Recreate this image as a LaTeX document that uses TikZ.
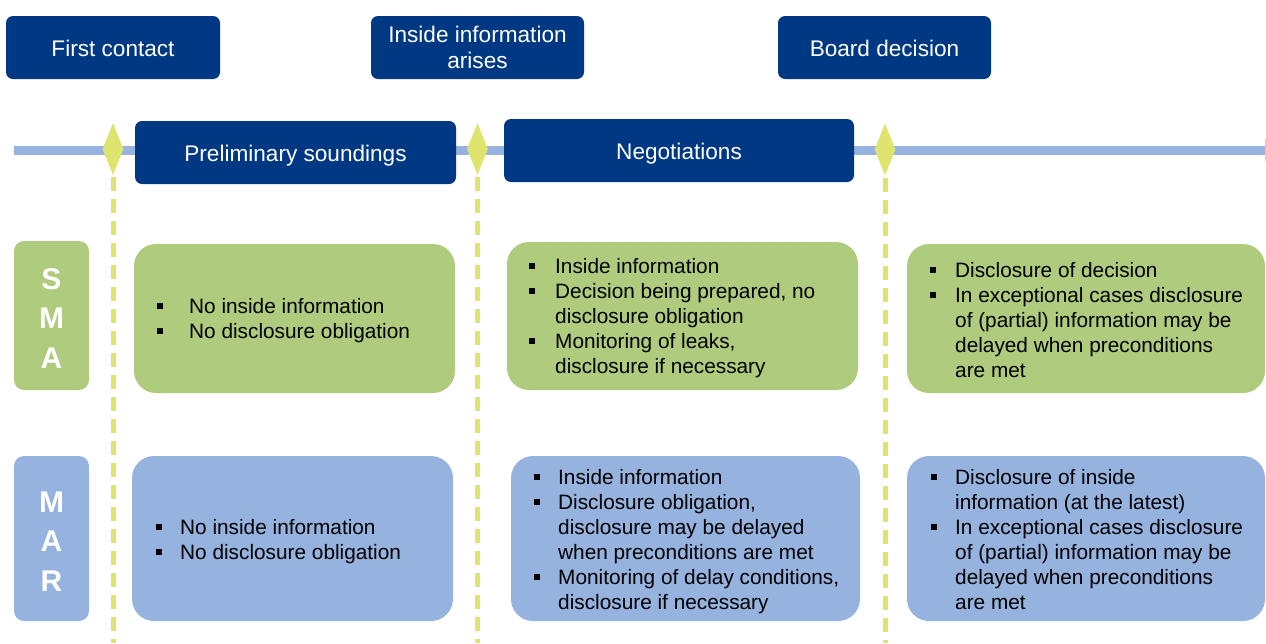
\documentclass[tikz,border=0pt]{standalone}
\usepackage{fontspec}
\setmainfont{Liberation Sans}
\usetikzlibrary{shapes.geometric}
\definecolor{dblue}{HTML}{003884}
\definecolor{lblue}{HTML}{95B3DE}
\definecolor{lgreen}{HTML}{AFCB7D}
\definecolor{lyel}{HTML}{DFE46F}
\newcommand\bul[1]{\makebox[#1][l]{\raisebox{4.5pt}{\rule{6pt}{6pt}}}}
\tikzset{
  hdr/.style={fill=dblue, rounded corners=7pt, text=white, inner sep=0pt,
    minimum height=63pt, font=\fontsize{22.6pt}{26pt}\selectfont, align=center},
  oneline/.style={text height=17pt, text depth=0pt},
  lbox/.style={rounded corners=10pt, minimum width=75pt, inner sep=0pt},
  cbox/.style={rounded corners=22pt, inner sep=0pt},
  lbl/.style={text=white, inner sep=0pt, anchor=north, align=center},
  txt/.style={inner sep=0pt, anchor=north west, align=left, text=black},
  milestone/.style={diamond, fill=lyel, inner sep=0pt, minimum width=21pt, minimum height=52pt},
  vguide/.style={lyel, line width=5pt, dash pattern=on 14pt off 8pt},
}
\begin{document}
\begin{tikzpicture}[x=1pt,y=-1pt]
\useasboundingbox (0,0) rectangle (1266,643);
% timeline bar
\coordinate (tlA) at (14,150);
\coordinate (tlB) at (1265,150);
\draw[lblue, line width=9pt] (tlA) -- (tlB);
\coordinate (tkA) at (1265.5,139);
\coordinate (tkB) at (1265.5,161);
\draw[lblue!60, line width=0.8pt] (tkA) -- (tkB);
% top headers
\node[hdr, oneline, minimum width=214pt] (fc) at (113,47.5) {First contact};
\node[hdr, minimum width=213pt] (iia) at (477.5,47.5) {Inside information\\arises};
\node[hdr, oneline, minimum width=213pt] (bd) at (884.5,47.5) {Board decision};
% phase headers
\node[hdr, oneline, minimum width=321pt] (ps) at (295.5,152.5) {Preliminary soundings};
\node[hdr, oneline, minimum width=350pt] (neg) at (679,150.5) {Negotiations};
% milestones
\node[milestone] (m1) at (113,149) {};
\node[milestone] (m2) at (477.5,149) {};
\node[milestone] (m3) at (885,149.5) {};
\coordinate (e1) at (113,643);
\coordinate (e2) at (477.5,643);
\coordinate (e3) at (885,643);
\draw[vguide] ([yshift=-2pt]m1.south) -- (e1);
\draw[vguide] ([yshift=-2pt]m2.south) -- (e2);
\draw[vguide] ([yshift=-2pt]m3.south) -- (e3);
% row labels
\node[lbox, fill=lgreen, minimum height=149pt] (smabox) at (51.5,315.5) {};
\node[lbox, fill=lblue, minimum height=165pt] (marbox) at (51.5,538.5) {};
\node[lbl, font=\fontsize{30pt}{39.5pt}\selectfont\bfseries] (smal) at (51.5,261.4) {\strut S\\M\\A};
\node[lbl, font=\fontsize{30pt}{39.5pt}\selectfont\bfseries] (marl) at (51.5,484.4) {\strut M\\A\\R};
% SMA row boxes
\node[cbox, fill=lgreen, minimum width=321pt, minimum height=149pt] (s1) at (294.5,318.5) {};
\node[cbox, fill=lgreen, minimum width=351pt, minimum height=148pt] (s2) at (682.5,316) {};
\node[cbox, fill=lgreen, minimum width=358pt, minimum height=149pt] (s3) at (1086,318.5) {};
% MAR row boxes
\node[cbox, fill=lblue, minimum width=321pt, minimum height=165pt] (r1) at (292.5,538.5) {};
\node[cbox, fill=lblue, minimum width=349pt, minimum height=165pt] (r2) at (685.5,538.5) {};
\node[cbox, fill=lblue, minimum width=358pt, minimum height=165pt] (r3) at (1086,538.5) {};
% texts
\node[txt, font=\fontsize{20.8pt}{25pt}\selectfont] (s1t) at (157,295.5)
  {\strut\bul{32pt}No inside information\\\bul{32pt}No disclosure obligation};
\node[txt, font=\fontsize{20.8pt}{25pt}\selectfont] (s2t) at (529,256)
  {\strut\bul{26pt}Inside information\\
   \bul{26pt}Decision being prepared, no\\
   \hspace*{26pt}disclosure obligation\\
   \bul{26pt}Monitoring of leaks,\\
   \hspace*{26pt}disclosure if necessary};
\node[txt, font=\fontsize{20.8pt}{25pt}\selectfont] (s3t) at (930,259.5)
  {\strut\bul{25pt}Disclosure of decision\\
   \bul{25pt}In exceptional cases disclosure\\
   \hspace*{25pt}of (partial) information may be\\
   \hspace*{25pt}delayed when preconditions\\
   \hspace*{25pt}are met};
\node[txt, font=\fontsize{20.8pt}{25pt}\selectfont] (r1t) at (156,516.5)
  {\strut\bul{24pt}No inside information\\\bul{24pt}No disclosure obligation};
\node[txt, font=\fontsize{20.8pt}{25pt}\selectfont] (r2t) at (534,466.5)
  {\strut\bul{24pt}Inside information\\
   \bul{24pt}Disclosure obligation,\\
   \hspace*{24pt}disclosure may be delayed\\
   \hspace*{24pt}when preconditions are met\\
   \bul{24pt}Monitoring of delay conditions,\\
   \hspace*{24pt}disclosure if necessary};
\node[txt, font=\fontsize{20.8pt}{25pt}\selectfont] (r3t) at (931,466.5)
  {\strut\bul{24pt}Disclosure of inside\\
   \hspace*{24pt}information (at the latest)\\
   \bul{24pt}In exceptional cases disclosure\\
   \hspace*{24pt}of (partial) information may be\\
   \hspace*{24pt}delayed when preconditions\\
   \hspace*{24pt}are met};
\end{tikzpicture}
\end{document}
